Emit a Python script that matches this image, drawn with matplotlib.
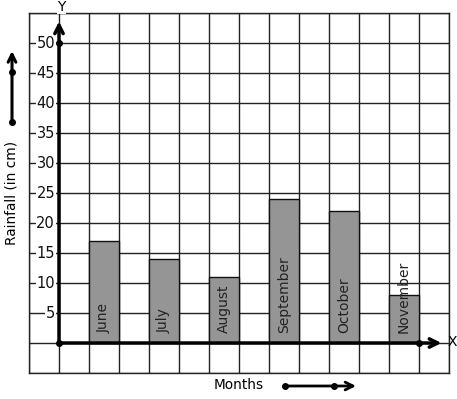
import matplotlib
matplotlib.use("Agg")
import matplotlib.pyplot as plt

months = ["June", "July", "August", "September", "October", "November"]
rainfall = [17, 14, 11, 24, 22, 8]
ytick_vals = [5, 10, 15, 20, 25, 30, 35, 40, 45, 50]

W, H = 457, 399
fig = plt.figure(figsize=(W / 100, H / 100), dpi=100)
ax = fig.add_axes([29 / W, 26 / H, 420 / W, 360 / H])
ax.set_xlim(-1, 13)
ax.set_ylim(-5, 55)

ax.set_xticks(range(-1, 14))
ax.set_yticks(range(-5, 60, 5))
ax.tick_params(length=0, labelbottom=False, labelleft=False)
ax.grid(True, color="#222222", lw=1.0)
ax.set_axisbelow(True)
for s in ax.spines.values():
    s.set_color("#222222")
    s.set_linewidth(1.0)

xpos = [1.5 + 2 * i for i in range(len(months))]
ax.bar(xpos, rainfall, width=1.0, color="#959595", edgecolor="#111111", lw=1.0, zorder=3)
for x, m in zip(xpos, months):
    ax.text(x, 1.6, m, rotation=90, ha="center", va="bottom", fontsize=10,
            color="#222222", zorder=4)

for v in ytick_vals:
    ax.text(-0.13, v, str(v), ha="right", va="center", fontsize=10.5, color="#111111",
            zorder=5, bbox=dict(facecolor="white", edgecolor="none", pad=0.3))

# axes with arrows
ax.annotate("", xy=(0, 53.6), xytext=(0, 0),
            arrowprops=dict(arrowstyle="->", lw=2.5, color="black", mutation_scale=15,
                            shrinkA=0, shrinkB=0), zorder=6)
ax.annotate("", xy=(12.75, 0), xytext=(0, 0),
            arrowprops=dict(arrowstyle="->", lw=2.5, color="black", mutation_scale=15,
                            shrinkA=0, shrinkB=0), zorder=6)
ax.plot([0, 0, 12], [50, 0, 0], "o", color="black", ms=4, zorder=7, clip_on=False)

ax.text(0.07, 56.0, "Y", ha="center", va="center", fontsize=10, zorder=8,
        bbox=dict(facecolor="white", edgecolor="none", pad=0.2))
ax.text(12.95, 0.1, "X", ha="left", va="center", fontsize=10, clip_on=False)

fig.text(12 / W, 1 - 193 / H, "Rainfall (in cm)", rotation=90, ha="center", va="center",
         fontsize=9.8)
fig.text(239 / W, 1 - 385 / H, "Months", ha="center", va="center", fontsize=9.8)

# decorative arrows
ax.annotate("", xy=(12, H - 51), xytext=(12, H - 122), xycoords="figure pixels",
            textcoords="figure pixels",
            arrowprops=dict(arrowstyle="->", lw=2.2, color="black", mutation_scale=14,
                            shrinkA=0, shrinkB=0), annotation_clip=False)
ax.annotate("", xy=(356, H - 386), xytext=(285, H - 386), xycoords="figure pixels",
            textcoords="figure pixels",
            arrowprops=dict(arrowstyle="->", lw=2.0, color="black", mutation_scale=14,
                            shrinkA=0, shrinkB=0), annotation_clip=False)
for (px, py) in [(12, H - 122), (12, H - 72), (285, H - 386), (334, H - 386)]:
    fig.add_artist(plt.Line2D([px / W], [py / H], marker="o", ms=4, color="black",
                              transform=fig.transFigure))

fig.savefig("out.png", dpi=100)
